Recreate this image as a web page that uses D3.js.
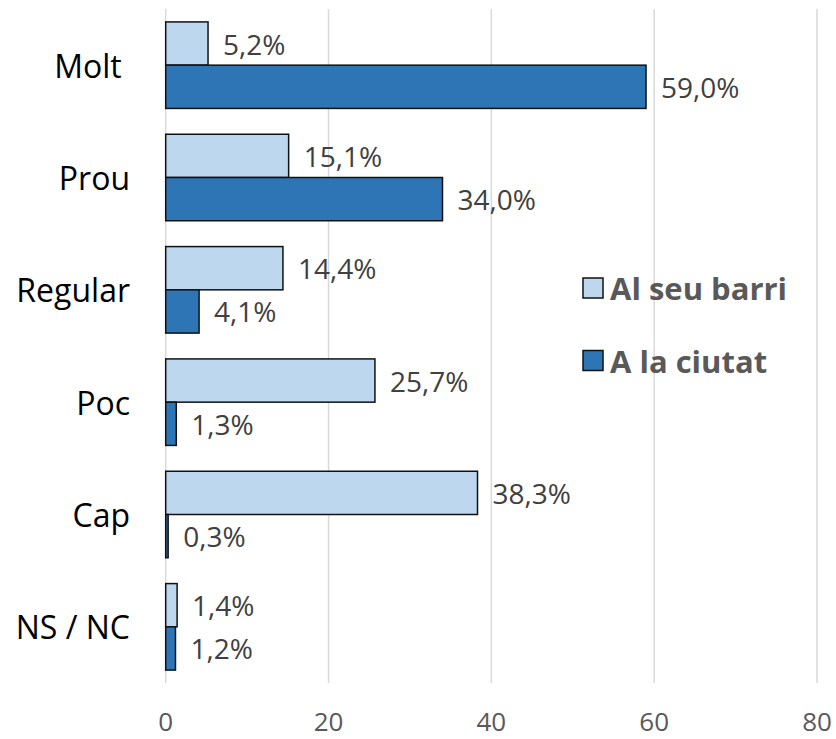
<!DOCTYPE html>
<html>
<head>
<meta charset="utf-8">
<script src="https://cdn.jsdelivr.net/npm/d3@7"></script>
<style>
  html, body { margin: 0; padding: 0; background: #fff; }
  svg text { font-family: "Open Sans", "Liberation Sans", sans-serif; white-space: pre; }
</style>
</head>
<body>
<svg id="chart" width="836" height="739"></svg>
<script>
const categories = ["Molt ", "Prou", "Regular", "Poc", "Cap", "NS / NC"];
const seriesNames = ["Al seu barri", "A la ciutat"];
const barriValues = [5.2, 15.1, 14.4, 25.7, 38.3, 1.4];
const ciutatValues = [59.0, 34.0, 4.1, 1.3, 0.3, 1.2];
const xTicks = [0, 20, 40, 60, 80];
const colors = ["#BDD7EE", "#2E75B6"];

const svg = d3.select("#chart");
const plotLeft = 165.7, plotRight = 817, plotTop = 9, plotBottom = 683;

const x = d3.scaleLinear().domain([0, 80]).range([plotLeft, plotRight]);
const y = d3.scaleBand().domain(categories).range([plotTop, plotBottom])
  .paddingInner(0.23).paddingOuter(0.115);
const ySub = d3.scaleBand().domain(seriesNames).range([0, y.bandwidth()]);

const fmt = v => d3.format(".1f")(v).replace(".", ",") + "%";

// gridlines
svg.append("g").selectAll("line").data(xTicks).join("line")
  .attr("x1", d => x(d)).attr("x2", d => x(d))
  .attr("y1", plotTop).attr("y2", plotBottom)
  .attr("stroke", "#D9D9D9").attr("stroke-width", 1.5);

// x tick labels
svg.append("g").selectAll("text").data(xTicks).join("text")
  .attr("x", d => x(d)).attr("y", 721)
  .attr("text-anchor", "middle").attr("dominant-baseline", "central")
  .attr("font-size", 26).attr("fill", "#595959")
  .text(d => d);

// category labels
svg.append("g").selectAll("text").data(categories).join("text")
  .attr("x", 130).attr("y", d => y(d) + y.bandwidth() / 2)
  .attr("text-anchor", "end").attr("dominant-baseline", "central")
  .attr("font-size", 32).attr("fill", "#000")
  .text(d => d);

const rows = [];
categories.forEach((c, i) => {
  rows.push({cat: c, s: seriesNames[0], v: barriValues[i], col: colors[0]});
  rows.push({cat: c, s: seriesNames[1], v: ciutatValues[i], col: colors[1]});
});

svg.append("g").selectAll("rect").data(rows).join("rect")
  .attr("x", x(0))
  .attr("y", d => y(d.cat) + ySub(d.s))
  .attr("width", d => x(d.v) - x(0))
  .attr("height", ySub.bandwidth())
  .attr("fill", d => d.col)
  .attr("stroke", "#111").attr("stroke-width", 1.5);

svg.append("g").selectAll("text").data(rows).join("text")
  .attr("x", d => x(d.v) + 15)
  .attr("y", d => y(d.cat) + ySub(d.s) + ySub.bandwidth() / 2)
  .attr("dominant-baseline", "central")
  .attr("font-size", 28).attr("fill", "#404040")
  .text(d => fmt(d.v));

// legend
const legend = svg.append("g");
const legendY = [288, 360.5];
seriesNames.forEach((s, i) => {
  legend.append("rect")
    .attr("x", 583).attr("y", legendY[i] - 10)
    .attr("width", 20).attr("height", 20)
    .attr("fill", colors[i]).attr("stroke", "#111").attr("stroke-width", 1.5);
  legend.append("text")
    .attr("x", 610).attr("y", legendY[i])
    .attr("dominant-baseline", "central")
    .attr("font-size", 31).attr("font-weight", "bold").attr("fill", "#595959")
    .text(s);
});
</script>
</body>
</html>
